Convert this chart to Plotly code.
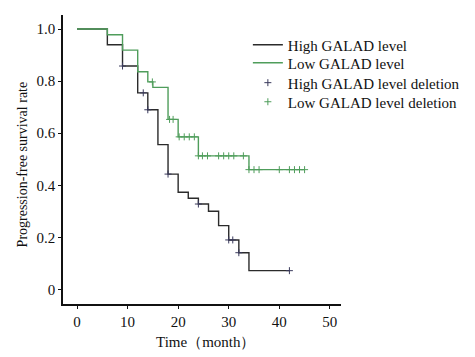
import plotly.graph_objects as go

# High GALAD level (black) step curve
high_t = [0, 6, 9, 12, 14, 16, 18, 20, 22, 24, 26, 28, 30, 32, 34, 42]
high_s = [1.0, 0.94, 0.858, 0.755, 0.69, 0.556, 0.443, 0.373, 0.35, 0.328, 0.30, 0.245, 0.19, 0.141, 0.072, 0.072]
high_cens_t = [9, 13.1, 14, 18, 24, 30, 30.8, 32, 42]
high_cens_s = [0.858, 0.755, 0.69, 0.443, 0.328, 0.19, 0.19, 0.141, 0.072]

# Low GALAD level (green) step curve
low_t = [0, 6, 9, 12, 14, 15, 18, 20, 24, 34, 45]
low_s = [1.0, 0.978, 0.919, 0.836, 0.797, 0.776, 0.653, 0.586, 0.513, 0.46, 0.46]
low_cens_t = [14.9, 18.3, 19.0, 20.2, 21.2, 22.2, 23.2, 24.0, 24.8, 25.8, 28, 29, 30, 31, 32.9,
              34, 35, 36, 40, 42, 43, 44, 45]
low_cens_s = [0.797, 0.653, 0.653, 0.586, 0.586, 0.586, 0.586, 0.513, 0.513, 0.513, 0.513, 0.513,
              0.513, 0.513, 0.513, 0.46, 0.46, 0.46, 0.46, 0.46, 0.46, 0.46, 0.46]

series_names = ["High GALAD level", "Low GALAD level",
                "High GALAD level deletion", "Low GALAD level deletion"]

x_ticks = [0, 10, 20, 30, 40, 50]
y_ticks = [0, 0.2, 0.4, 0.6, 0.8, 1.0]
y_tick_text = ["0", "0.2", "0.4", "0.6", "0.8", "1.0"]
x_title = "Time（month）"
y_title = "Progression-free survival rate"

BLACK = "#2b2b2b"
GREEN = "#4f9d5b"
CENS_BLACK = "#3a3a5c"
FONT = "Liberation Serif"

fig = go.Figure()
fig.add_trace(go.Scatter(x=high_t, y=high_s, mode="lines", line=dict(shape="hv", color=BLACK, width=1.4),
                         name=series_names[0], legend="legend"))
fig.add_trace(go.Scatter(x=low_t, y=low_s, mode="lines", line=dict(shape="hv", color=GREEN, width=1.4),
                         name=series_names[1], legend="legend2"))
fig.add_trace(go.Scatter(x=high_cens_t, y=high_cens_s, mode="markers",
                         marker=dict(symbol="cross-thin", size=5, line=dict(color=CENS_BLACK, width=1)),
                         name=series_names[2], legend="legend3"))
fig.add_trace(go.Scatter(x=low_cens_t, y=low_cens_s, mode="markers",
                         marker=dict(symbol="cross-thin", size=5, line=dict(color=GREEN, width=1)),
                         name=series_names[3], legend="legend4"))

leg_common = dict(x=0.665, xanchor="left", yanchor="middle", bgcolor="rgba(0,0,0,0)",
                  font=dict(family=FONT, size=15, color="#111111"), itemwidth=30)

fig.update_layout(
    width=475, height=357,
    margin=dict(l=55, r=142, t=7, b=61, autoexpand=False),
    paper_bgcolor="white", plot_bgcolor="white",
    font=dict(family=FONT, size=15, color="#111111"),
    showlegend=True,
    legend=dict(y=0.896, **leg_common),
    legend2=dict(y=0.834, **leg_common),
    legend3=dict(y=0.765, **leg_common),
    legend4=dict(y=0.699, **leg_common),
    xaxis=dict(range=[-2.77, 52.2], tickvals=x_ticks, showgrid=False, zeroline=False, automargin=False,
               showline=True, linecolor="#111111", linewidth=1.5, ticks="outside", ticklen=3,
               tickcolor="#111111", tickfont=dict(family=FONT, size=15)),
    yaxis=dict(range=[-0.056, 1.054], tickvals=y_ticks, ticktext=y_tick_text, showgrid=False,
               zeroline=False, showline=True, linecolor="#111111", linewidth=1.5, ticks="outside",
               ticklen=3, tickcolor="#111111", tickfont=dict(family=FONT, size=15), automargin=False),
    annotations=[
        dict(text=x_title, xref="paper", yref="paper", x=0.5126, y=-0.1315, xanchor="center",
             yanchor="middle", showarrow=False, font=dict(family=FONT, size=15, color="#111111")),
        dict(text=y_title, xref="paper", yref="paper", x=-0.1475, y=0.483, xanchor="center",
             yanchor="middle", textangle=-90, showarrow=False,
             font=dict(family=FONT, size=14, color="#111111")),
    ],
)

fig.write_html("out.html")
